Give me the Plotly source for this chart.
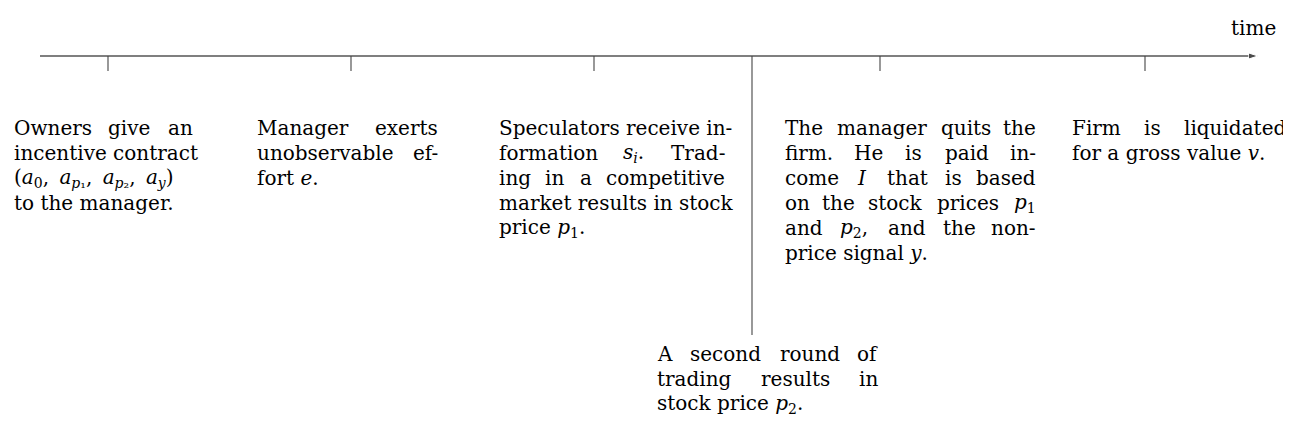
import re
import plotly.graph_objects as go

# Timeline events (horizontal position in pixel-like time units)
event_t = [108, 351, 594, 880, 1145]          # short ticks above text
second_round_t = 752                           # long tick down to 2nd-round text
axis_start, axis_end = 40, 1258

block_left = [12, 255, 497, 783, 1070]
block_right = [195, 440, 727, 1038, 1288]
SEP = ",\u00a0\u2009"
block_lines = [
    ["Owners give an", "incentive contract",
     "(<i>a</i><sub>0</sub>" + SEP + "<i>a</i><sub><i>p</i>₁</sub>" + SEP
     + "<i>a</i><sub><i>p</i>₂</sub>" + SEP + "<i>a</i><sub><i>y</i></sub>)",
     "to the manager."],
    ["Manager exerts", "unobservable ef-", "fort <i>e</i>."],
    ["Speculators receive in-", "formation <i>s</i><sub><i>i</i></sub>. Trad-",
     "ing in a competitive", "market results in stock", "price <i>p</i><sub>1</sub>."],
    ["The manager quits the", "firm. He is paid in-", "come <i>I</i> that is based",
     "on the stock prices <i>p</i><sub>1</sub>", "and <i>p</i><sub>2</sub>, and the non-",
     "price signal <i>y</i>."],
    ["Firm is liquidated", "for a gross value <i>v</i>."],
]
second_left, second_right = 655, 880
second_lines = ["A second round of", "trading results in", "stock price <i>p</i><sub>2</sub>."]

FONT = "DejaVu Serif"
FS = 20
axis_y = 56
tick_len = 15
text_top = 128
line_h = 25
second_top = 354
OFF = 8  # page body margin compensation

W = {}
for ch in "il.,j'()": W[ch] = 0.32
for ch in "tf": W[ch] = 0.40
W["r"] = 0.48; W["s"] = 0.51; W["m"] = 0.95; W["w"] = 0.86; W["-"] = 0.34
for ch in "ce": W[ch] = 0.58
for ch in "vyx": W[ch] = 0.57
for ch in "nuhdbpgq": W[ch] = 0.64


def est_width(s):
    s = re.sub(r"<[^>]+>", "", s)
    tot = 0.0
    for ch in s:
        if ch in W:
            tot += W[ch]
        elif ch.isupper():
            tot += 0.74
        else:
            tot += 0.60
    return tot * FS


def line_annotations(text, y, left, right, justify):
    font = dict(family=FONT, size=FS, color="black")
    words = text.split(" ")
    single = [dict(x=left, y=y, text=text, xanchor="left", yanchor="middle",
                   showarrow=False, font=font)]
    if not justify or len(words) == 1:
        return single
    widths = [est_width(w) for w in words]
    gap = ((right - left) - sum(widths)) / (len(words) - 1)
    if gap < 0.42 * FS:
        return single
    out = []
    pos = left
    for i, (w, wd) in enumerate(zip(words, widths)):
        if i == 0:
            out.append(dict(x=left, y=y, text=w, xanchor="left", yanchor="middle",
                            showarrow=False, font=font))
        elif i == len(words) - 1:
            out.append(dict(x=right, y=y, text=w, xanchor="right", yanchor="middle",
                            showarrow=False, font=font))
        else:
            out.append(dict(x=pos + wd / 2, y=y, text=w, xanchor="center", yanchor="middle",
                            showarrow=False, font=font))
        pos += wd + gap
    return out


fig = go.Figure()
fig.add_trace(go.Scatter(x=[axis_start, axis_end], y=[axis_y, axis_y], mode="lines+markers",
                         line=dict(color="black", width=1.2),
                         marker=dict(symbol=["line-ns", "arrow"], size=[0, 10], angleref="previous",
                                     color="black"),
                         hoverinfo="skip", showlegend=False))
tx, ty = [], []
for t in event_t:
    tx += [t, t, None]
    ty += [axis_y, axis_y + tick_len, None]
fig.add_trace(go.Scatter(x=tx, y=ty, mode="lines", line=dict(color="#444", width=1.1),
                         hoverinfo="skip", showlegend=False))
fig.add_trace(go.Scatter(x=[second_round_t, second_round_t], y=[axis_y, 335], mode="lines",
                         line=dict(color="#444", width=1.1), hoverinfo="skip", showlegend=False))

ann = []
for left, right, lines in zip(block_left, block_right, block_lines):
    for i, ln in enumerate(lines):
        ann += line_annotations(ln, text_top + i * line_h, left, right, i < len(lines) - 1)
for i, ln in enumerate(second_lines):
    ann += line_annotations(ln, second_top + i * line_h, second_left, second_right,
                            i < len(second_lines) - 1)
ann.append(dict(x=1278, y=28, text="time", xanchor="right", yanchor="middle", showarrow=False,
                font=dict(family=FONT, size=FS, color="black")))

fig.update_layout(width=1291 - OFF, height=434 - OFF, margin=dict(l=0, r=0, t=0, b=0),
                  paper_bgcolor="white", plot_bgcolor="white", annotations=ann,
                  xaxis=dict(range=[OFF, 1291], visible=False),
                  yaxis=dict(range=[434, OFF], visible=False))
fig.write_html("out.html")
